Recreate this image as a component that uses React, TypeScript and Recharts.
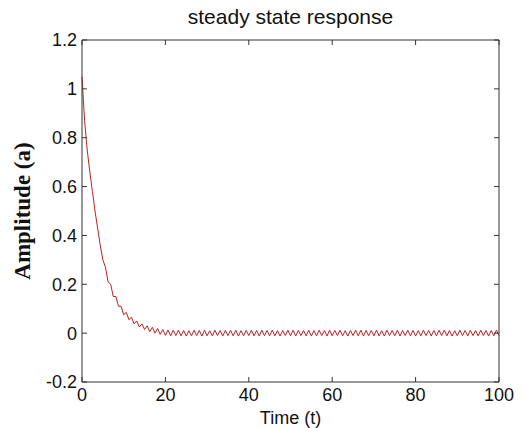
import { LineChart, Line, XAxis, YAxis, Label } from 'recharts';

const timeStep = 0.625;
const amplitude = [
  1.05, 0.87, 0.75, 0.66, 0.58, 0.5, 0.43, 0.36, 0.3, 0.27,
  0.21, 0.2, 0.15, 0.15, 0.11, 0.11, 0.075, 0.085, 0.055, 0.065,
  0.038, 0.05, 0.025, 0.038, 0.015, 0.03, 0.006, 0.024, 0.0, 0.019,
  -0.005, 0.015, -0.009, 0.013,
  -0.011, 0.012, -0.01, 0.012, -0.011, 0.011, -0.012, 0.01, -0.011, 0.012,
  -0.01, 0.011, -0.012, 0.012, -0.011, 0.01, -0.011, 0.012, -0.01, 0.011,
  -0.012, 0.011, -0.01, 0.012, -0.011, 0.012, -0.012, 0.01, -0.011, 0.011,
  -0.01, 0.012, -0.011, 0.011, -0.012, 0.012, -0.01, 0.011, -0.011, 0.012,
  -0.011, 0.01, -0.012, 0.011, -0.01, 0.012, -0.011, 0.012, -0.012, 0.011,
  -0.01, 0.011, -0.011, 0.012, -0.012, 0.01, -0.011, 0.012, -0.01, 0.011,
  -0.012, 0.012, -0.011, 0.011, -0.01, 0.012, -0.011, 0.01, -0.012, 0.011,
  -0.01, 0.012, -0.011, 0.012, -0.012, 0.011, -0.01, 0.011, -0.011, 0.012,
  -0.011, 0.01, -0.012, 0.012, -0.01, 0.011, -0.011, 0.012, -0.012, 0.011,
  -0.01, 0.012, -0.011, 0.011, -0.012, 0.01, -0.011, 0.012, -0.01, 0.011,
  -0.012, 0.011, -0.011, 0.012, -0.01, 0.012, -0.011, 0.011, -0.012, 0.01,
  -0.011, 0.012, -0.01, 0.011, -0.012, 0.012, -0.01, 0.011, -0.011, 0.012,
  -0.01, 0.011, -0.012, 0.011, -0.011, 0.012, -0.01,
];

const xTicks = [0, 20, 40, 60, 80, 100];
const yTicks = [-0.2, 0, 0.2, 0.4, 0.6, 0.8, 1, 1.2];

const title = 'steady state response';
const xTitle = 'Time (t)';
const yTitle = 'Amplitude (a)';

const data = amplitude.map((a, i) => ({ t: i * timeStep, a }));

const axisColor = '#333';
const tickFont = { fontFamily: '"Liberation Sans", Arial, sans-serif', fontSize: 18, fill: '#111' };

const BottomTick = (props: any) => {
  const { x, y, payload } = props;
  const axisY = y - 6;
  return (
    <g>
      <line x1={x} x2={x} y1={axisY} y2={axisY - 5} stroke={axisColor} />
      <text x={x} y={axisY + 19} textAnchor="middle" {...tickFont}>{payload.value}</text>
    </g>
  );
};

const LeftTick = (props: any) => {
  const { x, y, payload } = props;
  const axisX = x + 5;
  return (
    <g>
      <line x1={axisX} x2={axisX + 5} y1={y} y2={y} stroke={axisColor} />
      <text x={x} y={y} dy="0.36em" textAnchor="end" {...tickFont}>{payload.value}</text>
    </g>
  );
};

const TopTick = (props: any) => {
  const { x, y } = props;
  return <line x1={x} x2={x} y1={y} y2={y + 5} stroke={axisColor} />;
};

const RightTick = (props: any) => {
  const { x, y } = props;
  return <line x1={x - 5} x2={x} y1={y} y2={y} stroke={axisColor} />;
};

export default function App() {
  return (
    <div style={{ width: 524, height: 428, background: '#fff' }}>
      <style>{'body{margin:0}'}</style>
      <LineChart width={524} height={428} data={data} margin={{ top: 39, right: 24, bottom: 4, left: 0 }}>
        <XAxis
          dataKey="t"
          type="number"
          domain={[0, 100]}
          ticks={xTicks}
          height={42}
          stroke={axisColor}
          tickLine={false}
          tickSize={0}
          tickMargin={6}
          tick={<BottomTick />}
        >
          <Label
            content={(p: any) => (
              <text x={p.viewBox.x + p.viewBox.width / 2} y={p.viewBox.y + 42} textAnchor="middle" {...tickFont}>
                {xTitle}
              </text>
            )}
          />
        </XAxis>
        <XAxis
          xAxisId="top"
          dataKey="t"
          orientation="top"
          type="number"
          domain={[0, 100]}
          allowDataOverflow
          ticks={xTicks}
          height={1}
          stroke={axisColor}
          tickLine={false}
          tickSize={0}
          tickMargin={0}
          tick={<TopTick />}
        >
          <Label
            content={(p: any) => (
              <text
                x={p.viewBox.x + p.viewBox.width / 2}
                y={24}
                textAnchor="middle"
                fontFamily='"Liberation Sans", Arial, sans-serif'
                fontSize={21}
                fill="#111"
              >
                {title}
              </text>
            )}
          />
        </XAxis>
        <YAxis
          type="number"
          domain={[-0.2, 1.2]}
          ticks={yTicks}
          width={82}
          stroke={axisColor}
          tickLine={false}
          tickSize={0}
          tickMargin={5}
          tick={<LeftTick />}
        >
          <Label
            content={(p: any) => {
              const cy = p.viewBox.y + p.viewBox.height / 2;
              return (
                <text
                  x={30}
                  y={cy}
                  transform={`rotate(-90, 30, ${cy})`}
                  textAnchor="middle"
                  fontFamily='"Liberation Serif", "Times New Roman", serif'
                  fontWeight="bold"
                  fontSize={23}
                  fill="#111"
                >
                  {yTitle}
                </text>
              );
            }}
          />
        </YAxis>
        <YAxis
          yAxisId="right"
          orientation="right"
          type="number"
          domain={[-0.2, 1.2]}
          allowDataOverflow
          ticks={yTicks}
          width={1}
          stroke={axisColor}
          tickLine={false}
          tickSize={0}
          tickMargin={0}
          tick={<RightTick />}
        />
        <Line
          type="linear"
          dataKey="a"
          stroke="#c41e1e"
          strokeWidth={1}
          dot={false}
          isAnimationActive={false}
        />
        {/* invisible copy so the top/right frame axes get a domain */}
        <Line
          xAxisId="top"
          yAxisId="right"
          type="linear"
          dataKey="a"
          stroke="none"
          dot={false}
          activeDot={false}
          legendType="none"
          isAnimationActive={false}
        />
      </LineChart>
    </div>
  );
}
